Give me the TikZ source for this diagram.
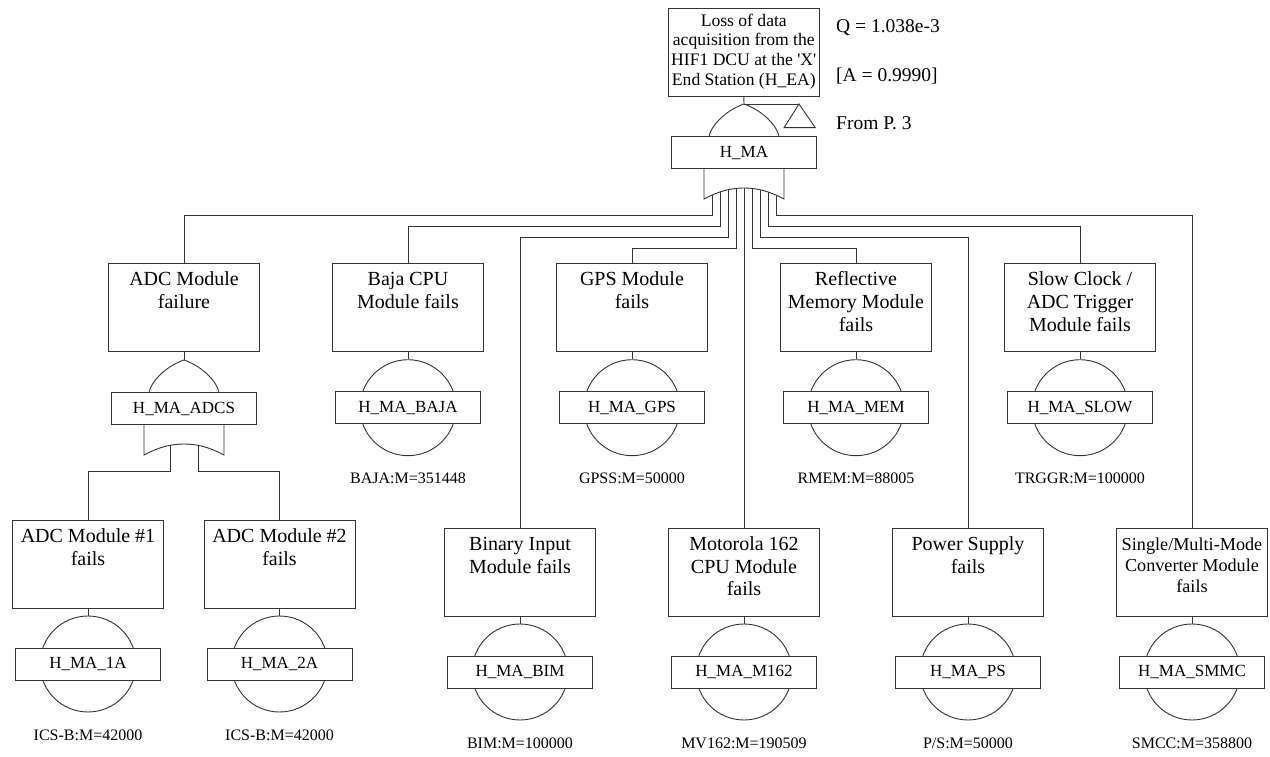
\documentclass[tikz,border=0pt]{standalone}
\usepackage{fontspec}
\setmainfont{Liberation Serif}
\newfontfamily\plainrm{Liberation Serif}
\usetikzlibrary{calc}

\tikzset{
  ln/.style={line width=0.9pt, draw=black!80},
  evbox/.style={draw=black!80, line width=0.9pt, rectangle, minimum width=151pt, minimum height=88pt, inner sep=0pt},
  evtext/.style={anchor=base, inner sep=0pt, font=\fontsize{20}{22.8}\selectfont},
  topbox/.style={draw=black!80, line width=0.9pt, rectangle, minimum width=151pt, minimum height=87.7pt, inner sep=0pt},
  toptext/.style={anchor=base, inner sep=0pt, font=\plainrm\fontsize{17.6}{19.6}\selectfont},
  gbox/.style={draw=black!80, line width=0.9pt, fill=white, rectangle, minimum width=145pt, minimum height=32pt, inner sep=0pt, font=\fontsize{17}{20}\selectfont},
  bcirc/.style={draw=black!80, line width=0.9pt, circle, minimum size=96pt, inner sep=0pt},
  btext/.style={inner sep=0pt, font=\fontsize{16}{19}\selectfont},
  sidetext/.style={anchor=west, inner sep=0pt, font=\fontsize{19.5}{22}\selectfont},
}

% event box: name, centre x, top y, text
\newcommand\FTevent[4]{%
  \node[evbox] (#1) at (#2,#3+44) {};
  \node[evtext] (#1t) at ($(#1.north)+(0,22.7)$) {\parbox[t]{150pt}{\centering #4}};
}
% basic event: name, centre x, centre y, label, text
\newcommand\FTbasic[5]{%
  \node[bcirc] (#1c) at (#2,#3) {};
  \node[gbox] (#1b) at (#2,#3) {#4};
  \node[btext] (#1m) at (#2,#3+71) {#5};
}
% OR gate: name, centre x, apex y, label
\newcommand\FTor[4]{%
  \coordinate (#1apex) at (#2,#3);
  \draw[ln] (#2-35,#3+32.5) .. controls (#2-32,#3+18.5) and (#2-14,#3+4.5) .. (#1apex)
            .. controls (#2+14,#3+4.5) and (#2+32,#3+18.5) .. (#2+35,#3+32.5);
  \node[gbox] (#1) at (#2,#3+48.5) {#4};
  \draw[ln] (#2-40,#3+64.5) -- (#2-40,#3+95)
            .. controls (#2-13.33,#3+80.33) and (#2+13.33,#3+80.33) .. (#2+40,#3+95)
            -- (#2+40,#3+64.5);
}

\begin{document}
\begin{tikzpicture}[x=1pt,y=-1pt]
\useasboundingbox (0,0) rectangle (1270,757);

% top event
\node[topbox] (top) at (743.8,52.2) {};
\node[toptext] (topt) at ($(top.north)+(0,18.4)$) {\parbox[t]{150pt}{\centering Loss of data\\acquisition from the\\HIF1 DCU at the 'X'\\End Station (H\_EA)}};

\node[sidetext] (q) at (836,27.3) {Q = 1.038e-3};
\node[sidetext] (a) at (836,76) {[A = 0.9990]};
\node[sidetext] (fp) at (836,123) {From P. 3};

% main OR gate
\FTor{hma}{744}{104}{H\_MA}
\draw[ln] (top.south) -- (hmaapex);
\coordinate (tri) at (799,104);
\draw[ln] (hmaapex) -- (tri);
\draw[ln] (tri) -- (815.3,127.7) -- (784,127.7) -- cycle;

% second row events
\FTevent{adc}{184}{263.3}{ADC Module\\failure}
\FTevent{baja}{408}{263.3}{Baja CPU\\Module fails}
\FTevent{gps}{632}{263.3}{GPS Module\\fails}
\FTevent{rmem}{856}{263.3}{Reflective\\Memory Module\\fails}
\FTevent{slow}{1080}{263.3}{Slow Clock /\\ADC Trigger\\Module fails}

% third row events
\FTevent{adca}{88}{520}{ADC Module \#1\\fails}
\FTevent{adcb}{279.5}{520}{ADC Module \#2\\fails}
\FTevent{bim}{520}{528}{Binary Input\\Module fails}
\FTevent{mot}{744}{528}{Motorola 162\\CPU Module\\fails}
\FTevent{ps}{968}{528}{Power Supply\\fails}
\FTevent{smmc}{1192}{528}{\fontsize{18.2}{21}\selectfont Single/Multi-Mode\\Converter Module\\fails}

% basic events
\FTbasic{bajab}{408}{407.7}{H\_MA\_BAJA}{BAJA:M=351448}
\FTbasic{gpsb}{632}{407.7}{H\_MA\_GPS}{GPSS:M=50000}
\FTbasic{rmemb}{856}{407.7}{H\_MA\_MEM}{RMEM:M=88005}
\FTbasic{slowb}{1080}{407.7}{H\_MA\_SLOW}{TRGGR:M=100000}
\FTbasic{adcab}{88}{664}{H\_MA\_1A}{ICS-B:M=42000}
\FTbasic{adcbb}{279.5}{664}{H\_MA\_2A}{ICS-B:M=42000}
\FTbasic{bimb}{520}{672}{H\_MA\_BIM}{BIM:M=100000}
\FTbasic{motb}{744}{672}{H\_MA\_M162}{MV162:M=190509}
\FTbasic{psb}{968}{672}{H\_MA\_PS}{P/S:M=50000}
\FTbasic{smmcb}{1192}{672}{H\_MA\_SMMC}{SMCC:M=358800}

\foreach \n in {baja,gps,rmem,slow,adca,adcb,bim,mot,ps,smmc}
  \draw[ln] (\n.south) -- (\n bc.north);

% ADC OR gate
\FTor{adcs}{184}{360}{H\_MA\_ADCS}
\draw[ln] (adc.south) -- (adcsapex);
\coordinate (s1) at (170,445.4);
\coordinate (s2) at (198,445.4);
\draw[ln] (s1) -- (170,471.7) -| (adca.north);
\draw[ln] (s2) -- (198,471.7) -| (adcb.north);

% fan-out of the main gate
\coordinate (o1) at (712,194.9);
\coordinate (o2) at (720,192.0);
\coordinate (o3) at (728,189.8);
\coordinate (o4) at (736,188.5);
\coordinate (o5) at (744,188.0);
\coordinate (o6) at (752,188.5);
\coordinate (o7) at (760,189.8);
\coordinate (o8) at (768,192.0);
\coordinate (o9) at (776,194.9);
\draw[ln] (o1) -- (712,215.5) -| (adc.north);
\draw[ln] (o2) -- (720,226.5) -| (baja.north);
\draw[ln] (o3) -- (728,237.5) -| (bim.north);
\draw[ln] (o4) -- (736,248.5) -| (gps.north);
\draw[ln] (o5) -- (mot.north);
\draw[ln] (o6) -- (752,248.5) -| (rmem.north);
\draw[ln] (o7) -- (760,237.5) -| (ps.north);
\draw[ln] (o8) -- (768,226.5) -| (slow.north);
\draw[ln] (o9) -- (776,215.5) -| (smmc.north);
\end{tikzpicture}
\end{document}
